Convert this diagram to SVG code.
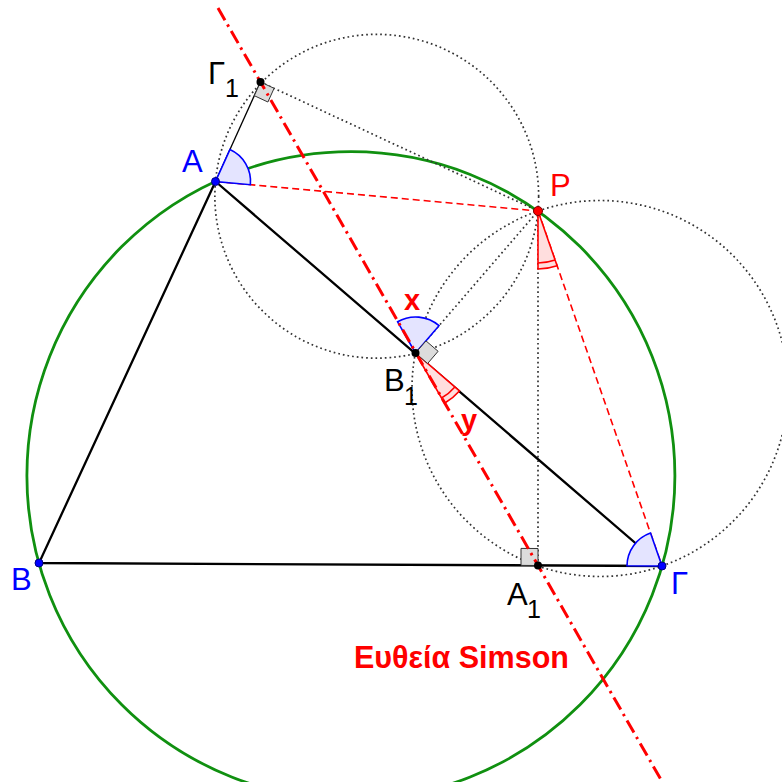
<svg xmlns="http://www.w3.org/2000/svg" width="782" height="782" viewBox="0 0 782 782">
<style>
.dot{fill:none;stroke:#333;stroke-width:1.7;stroke-dasharray:1.7 3}
.tri{stroke:#000;stroke-width:2.3;fill:none}
.rdash{stroke:#ff0000;stroke-width:1.6;stroke-dasharray:7 4;fill:none}
.bsec{fill:#e4e4ff;stroke:#0000ff;stroke-width:1.6}
.rsec{fill:#ffdede;stroke:#ff0000;stroke-width:1.6}
.rarc{fill:none;stroke:#ff0000;stroke-width:1.6}
.sq{fill:#dcdcdc;stroke:#333;stroke-width:1}
.lbl{font-family:"Liberation Sans",Arial,sans-serif;font-size:31px}
.sub{font-family:"Liberation Sans",Arial,sans-serif;font-size:25px}
.bold{font-family:"Liberation Sans",Arial,sans-serif;font-weight:bold;fill:#ff0000}
</style>
<rect width="782" height="782" fill="#fff"/>
<g id="connectors">
<circle class="dot" cx="376.75" cy="196.25" r="161.9"/>
<circle class="dot" cx="600" cy="388.5" r="188"/>
<circle cx="350.9" cy="475.7" r="324" fill="none" stroke="#109010" stroke-width="2.8"/>
<line class="dot" x1="260.5" y1="82" x2="538" y2="211"/>
<line class="dot" x1="415.5" y1="353" x2="538" y2="211"/>
<line class="dot" x1="538" y1="565.5" x2="538" y2="211"/>
<line x1="215.5" y1="181.5" x2="260.5" y2="82" stroke="#000" stroke-width="1.3"/>
<polygon class="tri" points="215.5,181.5 39,563 662,566"/>
<line class="rdash" x1="215.5" y1="181.5" x2="538" y2="211"/>
<line class="rdash" x1="538" y1="211" x2="662" y2="566"/>
</g>
<g id="angles">
<path class="bsec" d="M215.5 181.5 L229.9 149.6 A35 35 0 0 1 250.4 184.7 Z"/>
<path class="bsec" d="M415.5 353 L397.6 321.8 A36 36 0 0 1 439 325.7 Z"/>
<path class="bsec" d="M662 566 L627 565.8 A35 35 0 0 1 650.5 533 Z"/>
<path class="rsec" d="M538 211 L538 269 A58 58 0 0 0 557.1 265.8 Z"/>
<path class="rarc" d="M538 263 A52 52 0 0 0 555.15 260.1"/>
<path class="rsec" d="M415.5 353 L444.5 403.2 A58 58 0 0 0 459.4 390.9 Z"/>
<path class="rarc" d="M441.5 398.05 A52 52 0 0 0 454.9 387"/>
<polygon class="sq" points="260.5,82 254.3,95.7 267.9,102 274.1,88.3"/>
<polygon class="sq" points="415.5,353 427.6,363.5 438.1,351.3 426,340.9"/>
<polygon class="sq" points="538,565.5 521,565.4 521,548.4 538,548.5"/>
</g>
<g id="simson">
<line x1="218" y1="8" x2="662.3" y2="782" stroke="#ff0000" stroke-width="3" stroke-dasharray="14 5 2.5 5"/>
</g>
<g id="A"><circle cx="215.5" cy="181.5" r="4" fill="#0000ff" stroke="#000080"/><text class="lbl" x="182" y="172" fill="#0000ff">A</text></g>
<g id="B"><circle cx="39" cy="563" r="4" fill="#0000ff" stroke="#000080"/><text class="lbl" x="11" y="590" fill="#0000ff">B</text></g>
<g id="Gamma"><circle cx="662" cy="566" r="4" fill="#0000ff" stroke="#000080"/><text class="lbl" x="671" y="594" fill="#0000ff">Γ</text></g>
<g id="P"><circle cx="538" cy="211" r="4.5" fill="#ff0000" stroke="#800000"/><text class="lbl" x="550" y="196" fill="#ff0000">P</text></g>
<g id="Gamma1"><circle cx="260.5" cy="82" r="4" fill="#000"/><text class="lbl" x="208" y="84" fill="#000">Γ</text><text class="sub" x="225" y="97" fill="#000">1</text></g>
<g id="B1"><circle cx="415.5" cy="353" r="4" fill="#000"/><text class="lbl" x="384" y="391" fill="#000">B</text><text class="sub" x="404" y="405" fill="#000">1</text></g>
<g id="A1"><circle cx="538" cy="565.5" r="4" fill="#000"/><text class="lbl" x="507" y="605" fill="#000">A</text><text class="sub" x="527" y="618" fill="#000">1</text></g>
<text class="bold" x="404" y="310" font-size="29">x</text>
<text class="bold" x="461" y="430" font-size="29">y</text>
<text class="bold" x="354" y="668" font-size="30.5">Ευθεία Simson</text>
</svg>
